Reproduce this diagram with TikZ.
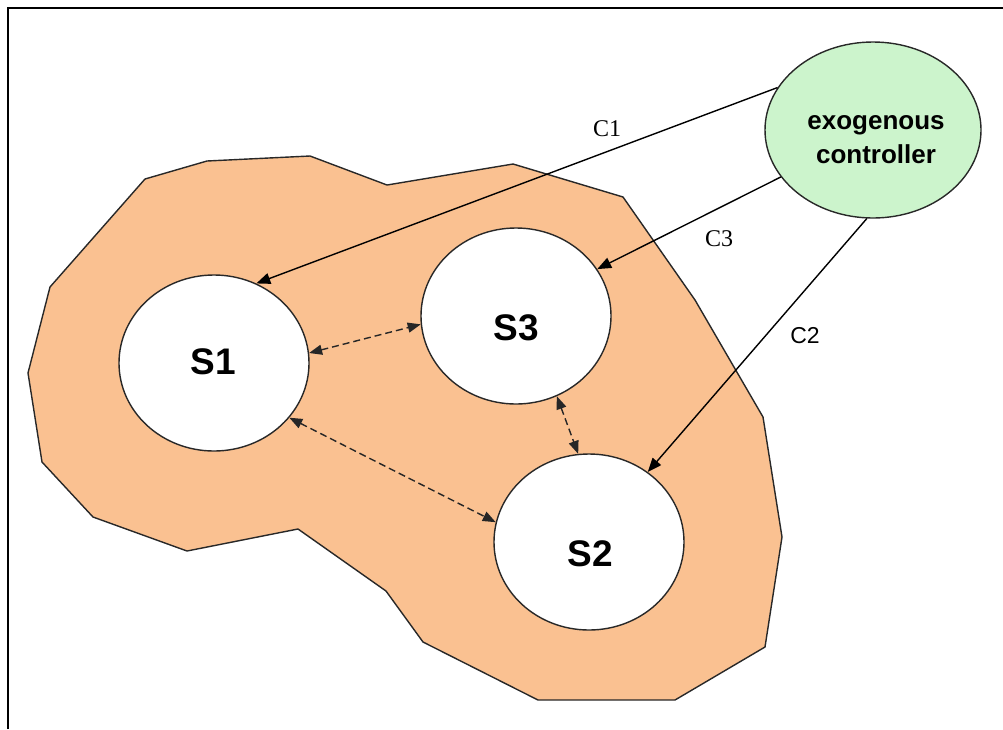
\documentclass[tikz,border=0pt]{standalone}
\usepackage{fontspec}
\setmainfont{Liberation Serif}
\newfontfamily\arialfont{Liberation Sans}
\usetikzlibrary{shapes.geometric,arrows.meta}
\definecolor{peach}{RGB}{250,193,145}
\definecolor{mint}{RGB}{204,244,204}
\definecolor{edge}{RGB}{40,40,40}
\begin{document}
\begin{tikzpicture}[x=1pt,y=-1pt,
  subsys/.style={ellipse, draw=edge, line width=1.4pt, fill=white,
    minimum width=190pt, minimum height=176pt, inner sep=0pt},
  ctrlnode/.style={ellipse, draw=edge, line width=1.4pt, fill=mint,
    minimum width=216pt, minimum height=176pt, inner sep=0pt},
  sname/.style={font=\arialfont\bfseries\fontsize{37}{40}\selectfont, inner sep=0pt},
  ctrlname/.style={font=\arialfont\bfseries\fontsize{26}{34}\selectfont, align=center, inner sep=0pt},
  cname/.style={font=\fontsize{24}{26}\selectfont, inner sep=0pt},
  cname2/.style={font=\arialfont\fontsize{23}{26}\selectfont, inner sep=0pt},
  ctrlarrow/.style={-{Triangle[length=14pt,width=11pt]}, line width=1.4pt, draw=black},
  link/.style={{Triangle[length=13pt,width=10pt]}-{Triangle[length=13pt,width=10pt]},
    dash pattern=on 7pt off 4pt, line width=1.4pt, draw=black!85}]
\useasboundingbox (0,0) rectangle (1003,729);

% frame edges
\draw[line width=2.5pt] (8,729) -- (8,8) -- (1003,8);

% shared environment region
\draw[fill=peach, draw=edge, line width=1.4pt]
  (145,179) -- (207,161) -- (310,156) -- (387,185) -- (513,164) -- (623,197)
  -- (695,300) -- (763,417) -- (782,537) -- (765,647) -- (675,700) -- (538,700)
  -- (423,642) -- (386,591) -- (298,529) -- (187,551) -- (93,517) -- (42,462)
  -- (28,373) -- (50,287) -- cycle;

% subsystems
\node[subsys] (s1) at (214,363) {};
\node[subsys] (s3) at (516,316) {};
\node[subsys] (s2) at (589,542) {};
\node[sname] (s1label) at (213,362) {S1};
\node[sname] (s3label) at (516,328) {S3};
\node[sname] (s2label) at (590,554) {S2};

% controller
\node[ctrlnode] (ctrl) at (873,130) {};
\node[ctrlname] (ctrllabel) at (876,140) {exogenous\\controller};

% control actions
\draw[ctrlarrow] (ctrl.156.2) -- (s1.62.3);
\draw[ctrlarrow] (ctrl.207.3) -- (s3.30.3);
\draw[ctrlarrow] (ctrl.266.7) -- (s2.50.3);
\node[cname] (c1) at (607,129) {C1};
\node[cname] (c3) at (719,239) {C3};
\node[cname2] (c2) at (805,336) {C2};

% interactions between subsystems
\draw[link] (s1.6.4) -- (s3.185.5);
\draw[link] (s1.-36) -- (s2.168.6);
\draw[link] (s3.-63.7) -- (s2.97.9);
\end{tikzpicture}
\end{document}
